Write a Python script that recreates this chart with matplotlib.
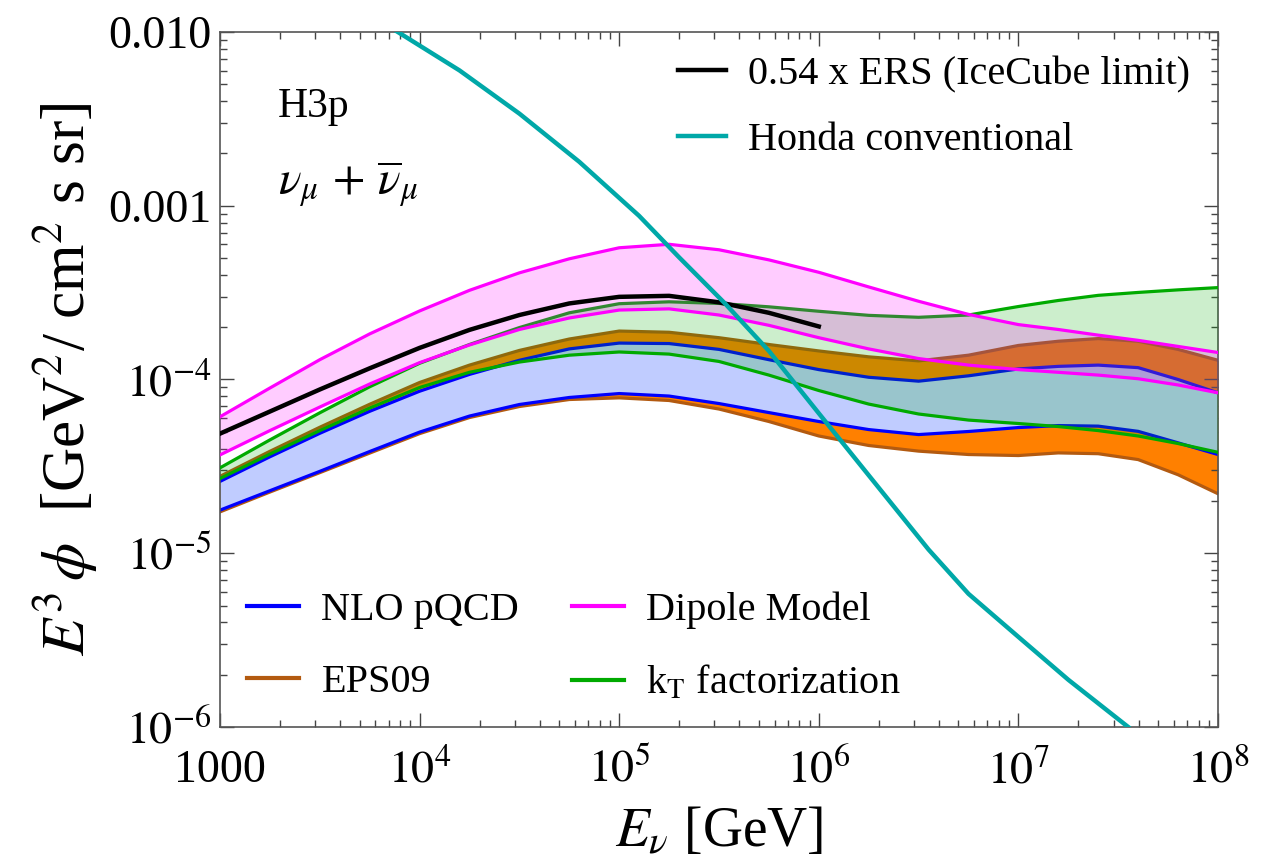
import numpy as np
import matplotlib
matplotlib.use("Agg")
import matplotlib.pyplot as plt
from matplotlib.ticker import FixedLocator, FixedFormatter, LogLocator, NullFormatter
from matplotlib.lines import Line2D

plt.rcParams["font.family"] = "serif"
plt.rcParams["font.serif"] = ["Liberation Serif", "DejaVu Serif"]
plt.rcParams["mathtext.fontset"] = "stix"

# log10(E / GeV) grid for the model bands
log_e = [3.0, 3.25, 3.5, 3.75, 4.0, 4.25, 4.5, 4.75, 5.0, 5.25, 5.5, 5.75,
         6.0, 6.25, 6.5, 6.75, 7.0, 7.2, 7.4, 7.6, 7.8, 8.0]

dipole_hi = [6.10e-5, 8.93e-5, 1.30e-4, 1.83e-4, 2.48e-4, 3.26e-4, 4.11e-4, 4.95e-4,
             5.73e-4, 6.00e-4, 5.58e-4, 4.88e-4, 4.14e-4, 3.41e-4, 2.82e-4, 2.37e-4,
             2.07e-4, 1.94e-4, 1.80e-4, 1.68e-4, 1.55e-4, 1.43e-4]
dipole_lo = [3.68e-5, 5.08e-5, 6.94e-5, 9.42e-5, 1.25e-4, 1.58e-4, 1.94e-4, 2.26e-4,
             2.51e-4, 2.55e-4, 2.35e-4, 2.05e-4, 1.74e-4, 1.50e-4, 1.32e-4, 1.21e-4,
             1.14e-4, 1.10e-4, 1.06e-4, 1.01e-4, 9.30e-5, 8.38e-5]
kt_hi = [3.10e-5, 4.49e-5, 6.43e-5, 9.08e-5, 1.24e-4, 1.59e-4, 1.99e-4, 2.42e-4,
         2.73e-4, 2.80e-4, 2.74e-4, 2.62e-4, 2.47e-4, 2.34e-4, 2.28e-4, 2.35e-4,
         2.63e-4, 2.85e-4, 3.05e-4, 3.17e-4, 3.28e-4, 3.38e-4]
kt_lo = [2.69e-5, 3.72e-5, 5.08e-5, 6.85e-5, 8.99e-5, 1.10e-4, 1.26e-4, 1.38e-4,
         1.44e-4, 1.40e-4, 1.27e-4, 1.06e-4, 8.64e-5, 7.22e-5, 6.33e-5, 5.84e-5,
         5.58e-5, 5.36e-5, 5.08e-5, 4.73e-5, 4.28e-5, 3.81e-5]
nlo_hi = [2.59e-5, 3.59e-5, 4.90e-5, 6.56e-5, 8.56e-5, 1.07e-4, 1.29e-4, 1.50e-4,
          1.62e-4, 1.61e-4, 1.49e-4, 1.30e-4, 1.14e-4, 1.03e-4, 9.78e-5, 1.05e-4,
          1.15e-4, 1.19e-4, 1.21e-4, 1.17e-4, 1.00e-4, 8.38e-5]
nlo_lo = [1.77e-5, 2.29e-5, 2.96e-5, 3.85e-5, 4.98e-5, 6.16e-5, 7.18e-5, 7.88e-5,
          8.30e-5, 8.03e-5, 7.27e-5, 6.45e-5, 5.73e-5, 5.15e-5, 4.82e-5, 5.02e-5,
          5.29e-5, 5.43e-5, 5.39e-5, 5.03e-5, 4.32e-5, 3.70e-5]
eps_hi = [2.77e-5, 3.86e-5, 5.31e-5, 7.20e-5, 9.61e-5, 1.21e-4, 1.47e-4, 1.71e-4,
          1.90e-4, 1.87e-4, 1.74e-4, 1.59e-4, 1.46e-4, 1.35e-4, 1.28e-4, 1.38e-4,
          1.57e-4, 1.66e-4, 1.72e-4, 1.66e-4, 1.49e-4, 1.29e-4]
eps_lo = [1.73e-5, 2.25e-5, 2.91e-5, 3.77e-5, 4.88e-5, 6.04e-5, 6.99e-5, 7.67e-5,
          7.84e-5, 7.57e-5, 6.76e-5, 5.73e-5, 4.73e-5, 4.17e-5, 3.87e-5, 3.70e-5,
          3.65e-5, 3.78e-5, 3.74e-5, 3.46e-5, 2.83e-5, 2.20e-5]

# 0.54 x ERS, 1e3 .. 1e6 GeV
ers_log_e = log_e[:13]
ers = [4.88e-5, 6.54e-5, 8.76e-5, 1.16e-4, 1.52e-4, 1.93e-4, 2.35e-4, 2.74e-4,
       2.99e-4, 3.03e-4, 2.78e-4, 2.42e-4, 2.02e-4]

# Honda conventional flux
honda_log_e = [3.85, 4.2, 4.5, 4.8, 5.1, 5.3, 5.53, 5.75, 6.0, 6.25, 6.55, 6.75,
               7.0, 7.25, 7.55]
honda = [1.07e-2, 6.01e-3, 3.39e-3, 1.79e-3, 8.74e-4, 5.05e-4, 2.74e-4, 1.46e-4,
         6.39e-5, 2.81e-5, 1.05e-5, 5.84e-6, 3.30e-6, 1.87e-6, 1.0e-6]

x_ticks = [1e3, 1e4, 1e5, 1e6, 1e7, 1e8]
x_labels = ["1000", r"$10^{4}$", r"$10^{5}$", r"$10^{6}$", r"$10^{7}$", r"$10^{8}$"]
y_ticks = [1e-6, 1e-5, 1e-4, 1e-3, 1e-2]
y_labels = [r"$10^{-6}$", r"$10^{-5}$", r"$10^{-4}$", "0.001", "0.010"]

C_BLUE = "#0000ff"
C_BROWN = "#b35a10"
C_GREEN = "#00aa00"
C_MAGENTA = "#ff00ff"
C_TEAL = "#00a8a8"

energy = 10 ** np.array(log_e)

fig = plt.figure(figsize=(12.79, 8.58), dpi=100)
ax = fig.add_axes([0.172, 0.1527, 0.7803, 0.81])

lw = 2.3
# EPS09 band: opaque orange
ax.fill_between(energy, eps_lo, eps_hi, color="#ff8000", lw=0, zorder=1)
ax.plot(energy, eps_hi, color=C_BROWN, lw=lw, zorder=1.1)
ax.plot(energy, eps_lo, color=C_BROWN, lw=lw, zorder=1.1)
# NLO pQCD band: opaque light blue
ax.fill_between(energy, nlo_lo, nlo_hi, color="#c0ccff", lw=0, zorder=2)
ax.plot(energy, nlo_hi, color=C_BLUE, lw=lw, zorder=2.1)
ax.plot(energy, nlo_lo, color=C_BLUE, lw=lw, zorder=2.1)
# kT factorization band: translucent green
ax.fill_between(energy, kt_lo, kt_hi, color=C_GREEN, alpha=0.2, lw=0, zorder=3)
ax.plot(energy, kt_hi, color=C_GREEN, lw=lw, zorder=3.1)
ax.plot(energy, kt_lo, color=C_GREEN, lw=lw, zorder=3.1)
# dipole model band: translucent magenta
ax.fill_between(energy, dipole_lo, dipole_hi, color=C_MAGENTA, alpha=0.2, lw=0, zorder=4)
ax.plot(energy, dipole_hi, color=C_MAGENTA, lw=lw, zorder=4.1)
ax.plot(energy, dipole_lo, color=C_MAGENTA, lw=lw, zorder=4.1)

ax.plot(10 ** np.array(ers_log_e), ers, color="black", lw=3.2, zorder=5)
ax.plot(10 ** np.array(honda_log_e), honda, color=C_TEAL, lw=3.2, zorder=5)

ax.set_xscale("log")
ax.set_yscale("log")
ax.set_xlim(1e3, 1e8)
ax.set_ylim(1e-6, 1e-2)

ax.xaxis.set_major_locator(FixedLocator(x_ticks))
ax.xaxis.set_major_formatter(FixedFormatter(x_labels))
ax.yaxis.set_major_locator(FixedLocator(y_ticks))
ax.yaxis.set_major_formatter(FixedFormatter(y_labels))
for axis in (ax.xaxis, ax.yaxis):
    axis.set_minor_locator(LogLocator(base=10, subs=np.arange(2, 10)))
    axis.set_minor_formatter(NullFormatter())

ax.tick_params(which="both", direction="in", top=True, right=True,
               color="#444444", width=1.0, labelsize=33)
ax.tick_params(axis="x", which="major", pad=16)
ax.tick_params(axis="y", which="major", pad=6)
ax.tick_params(which="major", length=10)
ax.tick_params(which="minor", length=5)
for sp in ax.spines.values():
    sp.set_color("#555555")
    sp.set_linewidth(1.2)

ax.set_xlabel(r"$E_\nu$ [GeV]", fontsize=40, labelpad=10)
ax.set_ylabel(r"$E^3\,\phi$  [GeV$^2$/ cm$^2$ s sr]", fontsize=44, labelpad=6)

ax.text(0.058, 0.878, "H3p", transform=ax.transAxes, fontsize=30)
ax.text(0.058, 0.768, r"$\nu_\mu\, +\, \overline{\nu}_\mu$", transform=ax.transAxes,
        fontsize=34)

top_handles = [Line2D([], [], color="black", lw=3.2),
               Line2D([], [], color=C_TEAL, lw=3.2)]
leg1 = ax.legend(top_handles, ["0.54 x ERS (IceCube limit)", "Honda conventional"],
                 loc="upper right", bbox_to_anchor=(0.972, 0.965), frameon=False,
                 fontsize=29, handlelength=1.2, handletextpad=0.55,
                 labelspacing=0.7, borderaxespad=0, borderpad=0)
ax.add_artist(leg1)

bottom_handles = [Line2D([], [], color=C_BLUE, lw=3),
                  Line2D([], [], color=C_BROWN, lw=3),
                  Line2D([], [], color=C_MAGENTA, lw=3),
                  Line2D([], [], color=C_GREEN, lw=3)]
ax.legend(bottom_handles,
          ["NLO pQCD", "EPS09", "Dipole Model", r"k$_\mathrm{T}$ factorization"],
          loc="lower left", bbox_to_anchor=(0.027, 0.035), ncol=2, frameon=False,
          fontsize=29, handlelength=1.3, handletextpad=0.55, labelspacing=0.87,
          columnspacing=1.3, borderaxespad=0, borderpad=0)

fig.savefig("out.png", dpi=100)
plt.close(fig)
